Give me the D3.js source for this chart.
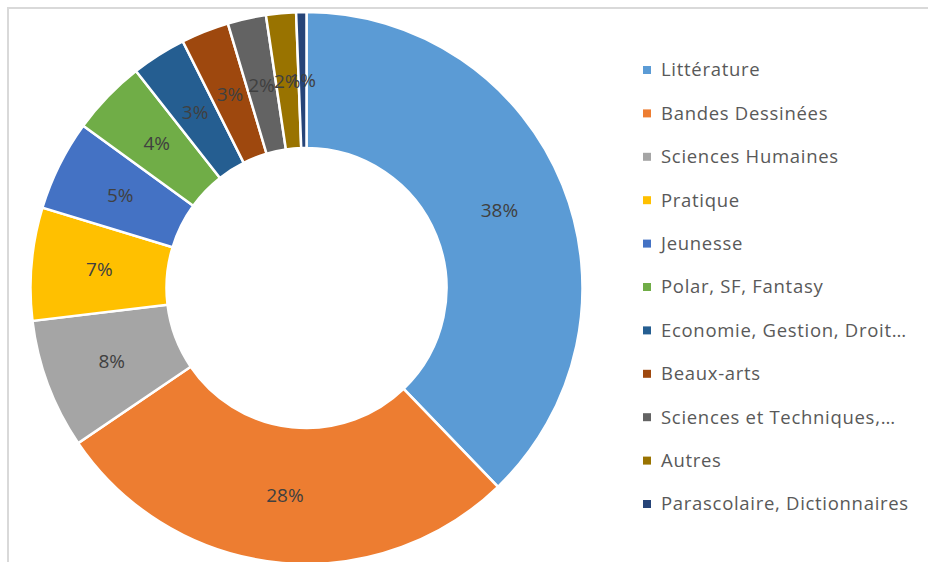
<!DOCTYPE html>
<html><head><meta charset="utf-8">
<script src="https://cdn.jsdelivr.net/npm/d3@7"></script>
<style>body{margin:0;background:#fff}svg{display:block}</style>
</head><body>
<script>
const categories = ["Littérature","Bandes Dessinées","Sciences Humaines","Pratique","Jeunesse","Polar, SF, Fantasy","Economie, Gestion, Droit…","Beaux-arts","Sciences et Techniques,…","Autres","Parascolaire, Dictionnaires"];
const values = [37.8,27.7,7.6,6.6,5.3,4.4,3.2,2.8,2.25,1.75,0.6];
const colors = ["#5B9BD5","#ED7D31","#A5A5A5","#FFC000","#4472C4","#70AD47","#255E91","#9E480E","#636363","#997300","#264478"];

const W=928,H=562;
const svg=d3.select("body").append("svg").attr("width",W).attr("height",H);
svg.append("rect").attr("x",8).attr("y",8).attr("width",W+10).attr("height",H+10).attr("fill","#fff").attr("stroke","#d9d9d9").attr("stroke-width",2);

const data=categories.map((c,i)=>({c,v:values[i],col:colors[i]}));
const cx=306.5,cy=288,R=276,r=140;
const pie=d3.pie().value(d=>d.v).sort(null);
const arc=d3.arc().innerRadius(r).outerRadius(R);
const g=svg.append("g").attr("transform",`translate(${cx},${cy})`);
const arcs=pie(data);
g.selectAll("path").data(arcs).join("path").attr("d",arc).attr("fill",d=>d.data.col).attr("stroke","#fff").attr("stroke-width",2.5);
const fmt=v=>Math.round(v)+"%";
g.selectAll("text").data(arcs).join("text")
 .attr("transform",d=>`translate(${arc.centroid(d)})`)
 .attr("text-anchor","middle").attr("dy","0.35em")
 .attr("font-family","'Open Sans', sans-serif").attr("font-size",19).attr("fill","#404040")
 .text(d=>fmt(d.data.v));

const y=d3.scalePoint().domain(categories).range([70,504]);
const lg=svg.append("g");
const items=lg.selectAll("g").data(data).join("g").attr("transform",d=>`translate(643,${y(d.c)})`);
items.append("rect").attr("x",0).attr("y",-4).attr("width",8).attr("height",8).attr("fill",d=>d.col);
items.append("text").attr("x",18).attr("dy","0.35em").attr("font-family","'Open Sans', sans-serif").attr("font-size",18.5).attr("letter-spacing",0.7).attr("fill","#595959").text(d=>d.c);
</script>
</body></html>
